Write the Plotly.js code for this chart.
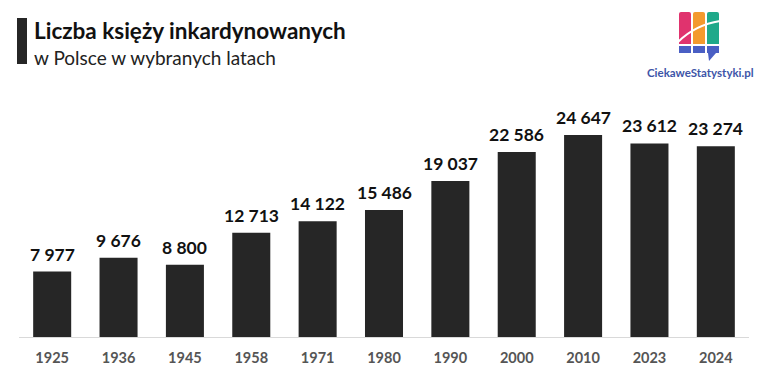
<!DOCTYPE html>
<html><head><meta charset="utf-8">
<script src="https://cdn.plot.ly/plotly-3.0.1.min.js"></script>
<style>body{margin:0;background:#fff}#c{width:768px;height:378px}</style>
</head><body><div id="c"></div>
<script>
const years = ['1925','1936','1945','1958','1971','1980','1990','2000','2010','2023','2024'];
const priests = [7977, 9676, 8800, 12713, 14122, 15486, 19037, 22586, 24647, 23612, 23274];
const valueLabels = ['7 977','9 676','8 800','12 713','14 122','15 486','19 037','22 586','24 647','23 612','23 274'];

const W = 768, H = 378, L = 19, R = 19, T = 108, B = 41;
const pw = W - L - R, ph = H - T - B;
const px = x => (x - L) / pw;
const py = y => (H - B - y) / ph;
const P = (x, y) => px(x).toFixed(5) + ',' + py(y).toFixed(5);

function roundTopRect(x0, y0, x1, y1, r, color) {
  const path = 'M' + P(x0, y1) + ' L' + P(x0, y0 + r) + ' Q' + P(x0, y0) + ' ' + P(x0 + r, y0) +
    ' L' + P(x1 - r, y0) + ' Q' + P(x1, y0) + ' ' + P(x1, y0 + r) + ' L' + P(x1, y1) + ' Z';
  return {type: 'path', xref: 'paper', yref: 'paper', path: path, fillcolor: color, line: {width: 0}, layer: 'above'};
}
function rect(x0, y0, x1, y1, color) {
  return {type: 'rect', xref: 'paper', yref: 'paper', x0: px(x0), x1: px(x1), y0: py(y1), y1: py(y0),
    fillcolor: color, line: {width: 0}, layer: 'above'};
}

const shapes = [
  rect(17, 18, 27, 64, '#262626'),
  roundTopRect(679, 12, 691, 44, 2, '#e0336e'),
  roundTopRect(693, 12, 705, 44, 2, '#f39a2e'),
  roundTopRect(707, 12, 719, 44, 2, '#1fa98a'),
  rect(679, 46, 691, 53, '#4a5fc4'),
  rect(693, 46, 705, 53, '#4a5fc4'),
  rect(707, 46, 719, 53, '#4a5fc4'),
  {type: 'path', xref: 'paper', yref: 'paper', path: 'M' + P(708, 53) + ' L' + P(716, 53) + ' L' + P(709, 61) + ' Z',
    fillcolor: '#4a5fc4', line: {width: 0}, layer: 'above'},
  {type: 'path', xref: 'paper', yref: 'paper', path: 'M' + P(678, 42) + ' Q' + P(695, 25) + ' ' + P(720, 21),
    line: {color: '#ffffff', width: 2}, layer: 'above'}
];

const annotations = years.map((y, i) => ({
  x: i, y: priests[i], xref: 'x', yref: 'y', text: valueLabels[i], showarrow: false,
  yanchor: 'bottom', yshift: 5, font: {family: 'Lato, sans-serif', size: 17.5, color: '#111111', weight: 'bold'}
}));
annotations.push(
  {xref: 'paper', yref: 'paper', x: px(31.5), y: py(30), xanchor: 'left', yanchor: 'middle', showarrow: false,
   text: '<b>Liczba księży inkardynowanych</b>', font: {family: 'Lato, sans-serif', size: 22.5, color: '#111111'}},
  {xref: 'paper', yref: 'paper', x: px(31.5), y: py(57), xanchor: 'left', yanchor: 'middle', showarrow: false,
   text: 'w Polsce w wybranych latach', font: {family: 'Lato, sans-serif', size: 19, color: '#222222'}},
  {xref: 'paper', yref: 'paper', x: px(700), y: py(72), xanchor: 'center', yanchor: 'middle', showarrow: false,
   text: '<b>CiekaweStatystyki.pl</b>', font: {family: 'Lato, sans-serif', size: 11.5, color: '#3d55a8'}}
);

Plotly.newPlot('c', [{
  type: 'bar', x: years, y: priests, marker: {color: '#262626'}, hoverinfo: 'skip'
}], {
  width: W, height: H, margin: {l: L, r: R, t: T, b: B},
  paper_bgcolor: '#ffffff', plot_bgcolor: '#ffffff', bargap: 0.427, showlegend: false,
  xaxis: {type: 'category', range: [-0.5, years.length - 0.5], autorange: false,
    showline: true, linecolor: '#d9d9d9', linewidth: 1, ticks: '', showgrid: false,
    tickfont: {family: 'Lato, sans-serif', size: 14.5, color: '#555555', weight: 'bold'}, ticklabelstandoff: 8},
  yaxis: {range: [0, 27940], autorange: false, visible: false, showgrid: false, zeroline: false},
  shapes: shapes, annotations: annotations
}, {displayModeBar: false, staticPlot: true});
</script></body></html>
